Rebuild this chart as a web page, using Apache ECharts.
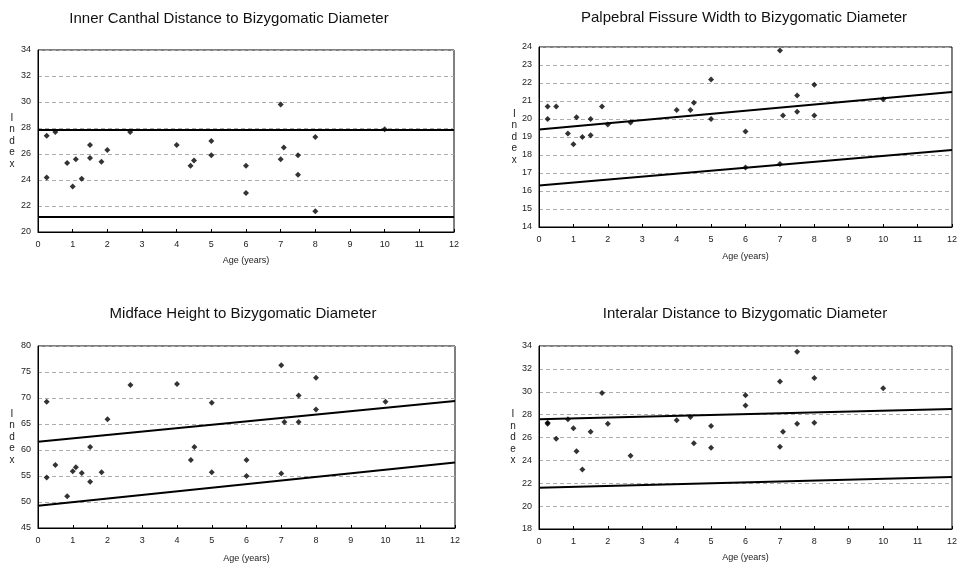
<!DOCTYPE html>
<html>
<head>
<meta charset="utf-8">
<title>Facial indices to bizygomatic diameter</title>
<script src="https://cdn.jsdelivr.net/npm/echarts@6/dist/echarts.min.js"></script>
<style>
    html, body { margin: 0; padding: 0; background: #fff; }
    #chart { width: 960px; height: 570px; }
</style>
</head>
<body>
<div id="chart"></div>
<script type="text/javascript">
    // ages (years) of the measured points, per panel
    var ageCanthal = [0.25, 0.25, 0.5, 0.84, 1.0, 1.09, 1.26, 1.5, 1.5, 1.83, 2.0, 2.66, 4.0, 4.4, 4.5, 5.0, 5.0, 6.0, 6.0, 7.0, 7.0, 7.09, 7.5, 7.5, 8.0, 8.0, 10.0];
    var idxCanthal = [27.4, 24.2, 27.7, 25.3, 23.5, 25.6, 24.1, 26.7, 25.7, 25.4, 26.3, 27.7, 26.7, 25.1, 25.5, 27.0, 25.9, 25.1, 23.0, 29.8, 25.6, 26.5, 25.9, 24.4, 27.3, 21.6, 27.9];

    var agePalpebral = [0.25, 0.25, 0.5, 0.84, 1.0, 1.09, 1.26, 1.5, 1.5, 1.83, 2.0, 2.66, 4.0, 4.4, 4.5, 5.0, 5.0, 6.0, 6.0, 7.0, 7.0, 7.09, 7.5, 7.5, 8.0, 8.0, 10.0];
    var idxPalpebral = [20.7, 20.0, 20.7, 19.2, 18.6, 20.1, 19.0, 20.0, 19.1, 20.7, 19.7, 19.8, 20.5, 20.5, 20.9, 22.2, 20.0, 19.3, 17.3, 23.8, 17.5, 20.2, 21.3, 20.4, 21.9, 20.2, 21.1];

    var ageMidface = [0.25, 0.25, 0.5, 0.84, 1.0, 1.09, 1.26, 1.5, 1.5, 1.83, 2.0, 2.66, 4.0, 4.4, 4.5, 5.0, 5.0, 6.0, 6.0, 7.0, 7.0, 7.09, 7.5, 7.5, 8.0, 8.0, 10.0];
    var idxMidface = [69.3, 54.7, 57.1, 51.1, 55.9, 56.7, 55.6, 60.6, 53.9, 55.7, 65.9, 72.5, 72.7, 58.1, 60.6, 69.1, 55.7, 58.1, 55.0, 76.3, 55.5, 65.4, 70.5, 65.4, 73.9, 67.8, 69.3];

    var ageInteralar = [0.25, 0.25, 0.5, 0.84, 1.0, 1.09, 1.26, 1.5, 1.83, 2.0, 2.66, 4.0, 4.4, 4.5, 5.0, 5.0, 6.0, 6.0, 7.0, 7.0, 7.09, 7.5, 7.5, 8.0, 8.0, 10.0];
    var idxInteralar = [27.3, 27.2, 25.9, 27.6, 26.8, 24.8, 23.2, 26.5, 29.9, 27.2, 24.4, 27.5, 27.8, 25.5, 27.0, 25.1, 29.7, 28.8, 30.9, 25.2, 26.5, 33.5, 27.2, 31.2, 27.3, 30.3];

    // normal range lines (value at age 0 and age 12)
    var upperCanthal = [[0, 27.85], [12, 27.85]];
    var lowerCanthal = [[0, 21.15], [12, 21.15]];
    var upperPalpebral = [[0, 19.42], [12, 21.5]];
    var lowerPalpebral = [[0, 16.3], [12, 18.28]];
    var upperMidface = [[0, 61.6], [12, 69.4]];
    var lowerMidface = [[0, 49.3], [12, 57.6]];
    var upperInteralar = [[0, 27.6], [12, 28.5]];
    var lowerInteralar = [[0, 21.6], [12, 22.55]];

    var titles = [
        'Inner Canthal Distance to Bizygomatic Diameter',
        'Palpebral Fissure Width to Bizygomatic Diameter',
        'Midface Height to Bizygomatic Diameter',
        'Interalar Distance to Bizygomatic Diameter'
    ];
    var yRanges = [[20, 34, 2], [14, 24, 1], [45, 80, 5], [18, 34, 2]];

    var font = 'Liberation Sans, Arial, sans-serif';

    function pairs(xs, ys) {
        return xs.map(function (x, i) { return [x, ys[i]]; });
    }

    var grids = [
        {left: 38, top: 50, width: 416, height: 182},
        {left: 539, top: 47, width: 415, height: 180},
        {left: 38, top: 346, width: 417, height: 182},
        {left: 539, top: 346, width: 415, height: 183}
    ];
    var titlePos = [[229, 11], [744, 10], [243, 306], [745, 306]];
    var xNameGap = [24, 25, 26, 24];
    var yNameGap = [26, 24, 26, 26];

    var points = [
        pairs(ageCanthal, idxCanthal),
        pairs(agePalpebral, idxPalpebral),
        pairs(ageMidface, idxMidface),
        pairs(ageInteralar, idxInteralar)
    ];
    var lines = [
        [upperCanthal, lowerCanthal],
        [upperPalpebral, lowerPalpebral],
        [upperMidface, lowerMidface],
        [upperInteralar, lowerInteralar]
    ];

    var gridLine = {show: true, lineStyle: {color: '#adadad', width: 1, type: [4, 3]}};

    var option = {
        backgroundColor: '#fff',
        animation: false,
        title: [],
        grid: [],
        xAxis: [],
        yAxis: [],
        series: []
    };

    for (var i = 0; i < 4; i++) {
        option.title.push({
            text: titles[i],
            left: titlePos[i][0],
            top: titlePos[i][1],
            textAlign: 'center',
            padding: 0,
            textStyle: {fontFamily: font, fontSize: 15, fontWeight: 'normal', color: '#111'}
        });
        option.grid.push(Object.assign({show: true, borderColor: '#000', borderWidth: 1, backgroundColor: '#fff'}, grids[i]));
        option.xAxis.push({
            type: 'value', gridIndex: i, min: 0, max: 12, interval: 1,
            name: 'Age (years)', nameLocation: 'middle', nameGap: xNameGap[i],
            nameTextStyle: {fontFamily: font, fontSize: 9, color: '#222'},
            axisLine: {show: true, lineStyle: {color: '#000', width: 1}},
            axisTick: {show: true, inside: true, length: 3, lineStyle: {color: '#000'}},
            axisLabel: {fontFamily: font, fontSize: 9, color: '#222', margin: 8},
            splitLine: {show: false}
        });
        option.yAxis.push({
            type: 'value', gridIndex: i, min: yRanges[i][0], max: yRanges[i][1], interval: yRanges[i][2],
            name: 'I\nn\nd\ne\nx', nameLocation: 'middle', nameRotate: 0, nameGap: yNameGap[i],
            nameTextStyle: {fontFamily: font, fontSize: 10, color: '#222', lineHeight: 11.5, align: 'center'},
            axisLine: {show: true, lineStyle: {color: '#000', width: 1}},
            axisTick: {show: false},
            axisLabel: {fontFamily: font, fontSize: 9, color: '#222', margin: 7},
            splitLine: gridLine
        });
        option.series.push({
            type: 'scatter', xAxisIndex: i, yAxisIndex: i,
            symbol: 'diamond', symbolSize: 6,
            itemStyle: {color: '#000'},
            data: points[i],
            z: 3
        });
        for (var k = 0; k < 2; k++) {
            option.series.push({
                type: 'line', xAxisIndex: i, yAxisIndex: i,
                showSymbol: false, symbol: 'none',
                lineStyle: {color: '#000', width: 2},
                data: lines[i][k],
                z: 2
            });
        }
    }

    var myChart = echarts.init(document.getElementById('chart'));
    myChart.setOption(option);
</script>
</body>
</html>
